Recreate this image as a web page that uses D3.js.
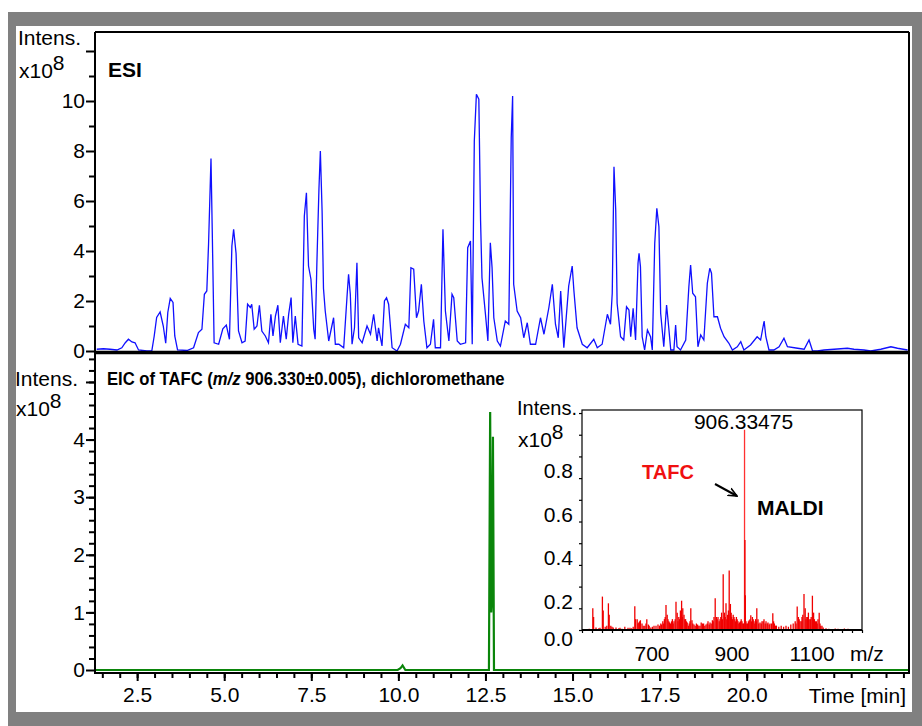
<!DOCTYPE html>
<html>
<head>
<meta charset="utf-8">
<script src="https://cdn.jsdelivr.net/npm/d3@7"></script>
<style>
  body { margin: 0; background: #fff; }
  text { font-family: "Liberation Sans", Arial, sans-serif; fill: #000; }
</style>
</head>
<body>
<div id="chart"></div>
<script>
// ESI total ion chromatogram (time in min, intensity x10^8)
const esiTime = [1.34, 1.53, 1.72, 1.92, 2.06, 2.16, 2.25, 2.35, 2.44, 2.54, 2.78, 2.92, 2.99, 3.06, 3.16, 3.25, 3.32, 3.38, 3.45, 3.53, 3.58, 3.66, 3.93, 4.12, 4.26, 4.36, 4.43, 4.5, 4.55, 4.62, 4.66, 4.71, 4.84, 4.96, 5.06, 5.15, 5.22, 5.27, 5.34, 5.41, 5.51, 5.6, 5.67, 5.75, 5.79, 5.86, 5.94, 6.01, 6.08, 6.18, 6.27, 6.34, 6.4, 6.47, 6.54, 6.61, 6.7, 6.78, 6.85, 6.92, 6.97, 7.04, 7.12, 7.23, 7.3, 7.36, 7.42, 7.49, 7.57, 7.61, 7.66, 7.72, 7.76, 7.81, 7.85, 7.9, 8.0, 8.14, 8.19, 8.29, 8.43, 8.53, 8.57, 8.62, 8.67, 8.74, 8.81, 8.86, 8.96, 9.1, 9.2, 9.29, 9.39, 9.43, 9.53, 9.6, 9.66, 9.72, 9.82, 9.96, 10.06, 10.2, 10.3, 10.36, 10.44, 10.52, 10.58, 10.66, 10.73, 10.82, 10.92, 11.01, 11.06, 11.21, 11.28, 11.35, 11.45, 11.54, 11.59, 11.69, 11.78, 11.93, 11.99, 12.07, 12.12, 12.18, 12.24, 12.31, 12.36, 12.4, 12.5, 12.57, 12.64, 12.69, 12.74, 12.84, 12.93, 13.07, 13.17, 13.24, 13.28, 13.31, 13.41, 13.51, 13.6, 13.7, 13.79, 13.94, 14.08, 14.18, 14.32, 14.42, 14.51, 14.59, 14.66, 14.75, 14.89, 14.99, 15.04, 15.13, 15.28, 15.42, 15.61, 15.71, 15.85, 16.0, 16.09, 16.14, 16.19, 16.24, 16.28, 16.38, 16.47, 16.55, 16.62, 16.67, 16.74, 16.81, 16.88, 16.91, 16.95, 17.0, 17.07, 17.15, 17.24, 17.29, 17.36, 17.42, 17.48, 17.53, 17.62, 17.7, 17.76, 17.82, 17.91, 17.96, 18.0, 18.1, 18.25, 18.34, 18.39, 18.45, 18.53, 18.6, 18.68, 18.77, 18.87, 18.94, 18.99, 19.06, 19.16, 19.25, 19.35, 19.49, 19.59, 19.73, 19.83, 19.92, 20.11, 20.3, 20.4, 20.5, 20.55, 20.64, 20.78, 20.93, 21.07, 21.17, 21.46, 21.65, 21.79, 21.89, 22.03, 22.22, 22.51, 22.89, 23.08, 23.37, 23.56, 23.85, 24.14, 24.33, 24.62];
const esiIntens = [0.07, 0.09, 0.07, 0.04, 0.13, 0.33, 0.47, 0.36, 0.33, 0.04, 0.0, 0.0, 0.6, 1.34, 1.56, 1.0, 0.31, 1.54, 2.1, 1.94, 0.6, 0.04, 0.02, 0.13, 0.74, 0.87, 2.27, 2.4, 4.27, 7.7, 4.5, 0.33, 0.27, 0.89, 1.04, 0.47, 4.2, 4.87, 3.9, 0.8, 0.33, 0.4, 1.87, 1.74, 1.87, 0.87, 1.0, 1.83, 0.8, 0.6, 0.33, 1.47, 0.6, 1.4, 1.83, 0.33, 1.4, 0.47, 1.47, 2.14, 0.33, 1.4, 0.27, 0.2, 5.4, 6.33, 3.4, 2.87, 0.87, 0.47, 3.5, 6.5, 8.0, 5.6, 2.5, 1.6, 0.4, 1.33, 0.27, 0.27, 0.13, 2.27, 3.07, 2.27, 0.27, 0.93, 3.53, 0.53, 0.33, 1.0, 0.67, 1.47, 0.4, 0.93, 0.2, 2.0, 2.13, 1.87, 0.13, 0.0, 0.27, 1.07, 0.93, 3.33, 3.27, 1.33, 1.6, 2.67, 1.2, 0.13, 0.27, 1.27, 0.13, 0.13, 4.87, 1.6, 0.4, 2.27, 2.13, 0.4, 0.27, 0.33, 4.13, 4.4, 0.27, 8.4, 10.27, 10.07, 5.2, 2.93, 1.47, 0.4, 4.33, 3.33, 1.33, 0.4, 0.2, 1.2, 1.07, 8.53, 10.2, 2.67, 1.6, 1.33, 0.53, 1.13, 0.27, 0.27, 1.33, 0.67, 1.73, 2.67, 1.07, 0.53, 2.4, 0.13, 2.6, 3.4, 2.4, 0.93, 0.27, 0.13, 0.47, 0.13, 0.27, 1.47, 1.07, 2.31, 7.37, 5.64, 1.91, 0.57, 0.44, 1.77, 1.64, 0.57, 1.71, 0.44, 3.51, 3.91, 3.37, 0.57, 0.04, 0.84, 0.57, 0.04, 4.31, 5.71, 4.97, 1.51, 0.17, 1.84, 0.97, 0.04, 0.04, 1.04, 0.17, 0.04, 0.44, 2.57, 3.44, 2.31, 2.17, 0.17, 0.64, 0.44, 2.71, 3.31, 3.11, 1.37, 1.37, 0.91, 0.57, 0.31, 0.04, 0.17, 0.37, 0.04, 0.24, 0.57, 0.44, 1.2, 0.57, 0.04, 0.04, 0.17, 0.51, 0.17, 0.11, 0.07, 0.44, 0.01, 0.0, 0.04, 0.07, 0.11, 0.07, 0.04, 0.0, 0.07, 0.17, 0.11, 0.04];

// extracted ion chromatogram of TAFC
const eicTime = [1.29, 9.98, 10.06, 10.12, 10.2, 12.6, 12.635, 12.665, 12.685, 12.715, 12.745, 24.66];
const eicIntens = [0, 0, 0.03, 0.08, 0, 0, 4.48, 1.0, 1.22, 4.05, 0, 0];

// MALDI spectrum (m/z, intensity x10^8)
const maldiMz = [510, 518, 527, 529, 535, 542, 551, 553, 558, 566, 568, 572, 578, 585, 592, 600, 607, 615, 624, 632, 634, 638, 642, 646, 650, 657, 662, 666, 672, 680, 690, 697, 702, 706, 710, 713, 717, 721, 726, 730, 735, 738, 742, 746, 749, 752, 755, 759, 763, 768, 772, 775, 780, 786, 792, 798, 804, 810, 815, 820, 826, 830, 833, 836, 840, 845, 849, 853, 856, 860, 864, 868, 871, 874, 878, 882, 886, 890, 894, 898, 902, 906.33, 907.3, 908.3, 910, 914, 918, 922, 926, 930, 934, 937, 940, 945, 950, 955, 960, 965, 970, 977, 981, 986, 992, 998, 1004, 1010, 1016, 1022, 1028, 1033, 1038, 1041, 1045, 1050, 1055, 1058, 1062, 1066, 1071, 1076, 1079, 1084, 1088, 1093, 1097, 1103, 1110, 1117, 1125, 1133, 1140, 1148, 1156, 1165, 1172, 1180,
  545, 562, 575, 595, 620, 628, 640, 644, 653, 660, 668, 676, 685, 694, 699, 704, 708, 715, 719, 724, 728, 733, 740, 744, 751, 757, 761, 766, 770, 777, 783, 789, 795, 801, 807, 813, 818, 823, 828, 838, 843, 847, 851, 858, 862, 866, 870, 873, 876, 880, 884, 888, 892, 896, 900, 904, 912, 916, 920, 924, 928, 932, 936, 942, 948, 953, 958, 963, 968, 974, 979, 984, 1035, 1043, 1048, 1052, 1060, 1064, 1068, 1073, 1081, 1086, 1090, 1095, 1100];
const maldiIntens = [0.004, 0.006, 0.10, 0.06, 0.012, 0.008, 0.154, 0.09, 0.015, 0.123, 0.07, 0.02, 0.012, 0.012, 0.008, 0.006, 0.015, 0.01, 0.008, 0.11, 0.05, 0.05, 0.035, 0.045, 0.03, 0.02, 0.05, 0.025, 0.012, 0.02, 0.025, 0.03, 0.04, 0.05, 0.115, 0.07, 0.04, 0.03, 0.05, 0.04, 0.13, 0.08, 0.06, 0.09, 0.135, 0.1, 0.07, 0.05, 0.035, 0.03, 0.1, 0.045, 0.025, 0.03, 0.02, 0.035, 0.03, 0.025, 0.04, 0.035, 0.045, 0.06, 0.146, 0.06, 0.06, 0.05, 0.08, 0.257, 0.08, 0.123, 0.07, 0.274, 0.12, 0.06, 0.07, 0.05, 0.06, 0.04, 0.035, 0.05, 0.03, 0.923, 0.415, 0.16, 0.04, 0.03, 0.045, 0.068, 0.06, 0.04, 0.05, 0.1, 0.05, 0.035, 0.04, 0.05, 0.04, 0.035, 0.03, 0.077, 0.03, 0.02, 0.015, 0.02, 0.015, 0.02, 0.015, 0.025, 0.03, 0.04, 0.108, 0.06, 0.04, 0.06, 0.166, 0.1, 0.06, 0.08, 0.05, 0.158, 0.08, 0.04, 0.03, 0.08, 0.02, 0.012, 0.008, 0.006, 0.005, 0.007, 0.006, 0.005, 0.007, 0.006, 0.005, 0.004,
  0.01, 0.02, 0.015, 0.01, 0.01, 0.015, 0.03, 0.04, 0.02, 0.03, 0.02, 0.015, 0.02, 0.02, 0.025, 0.03, 0.06, 0.05, 0.035, 0.04, 0.03, 0.05, 0.04, 0.05, 0.06, 0.05, 0.04, 0.02, 0.04, 0.03, 0.02, 0.025, 0.02, 0.03, 0.02, 0.03, 0.025, 0.03, 0.04, 0.05, 0.04, 0.06, 0.05, 0.06, 0.05, 0.09, 0.07, 0.08, 0.05, 0.06, 0.04, 0.05, 0.03, 0.04, 0.04, 0.03, 0.03, 0.04, 0.05, 0.04, 0.05, 0.03, 0.04, 0.03, 0.03, 0.04, 0.03, 0.03, 0.025, 0.03, 0.04, 0.02, 0.03, 0.05, 0.04, 0.07, 0.05, 0.06, 0.05, 0.06, 0.05, 0.04, 0.05, 0.03, 0.02];

// tick values / labels
const timeTicks = [2.5, 5, 7.5, 10, 12.5, 15, 17.5, 20];
const esiTicks = [0, 2, 4, 6, 8, 10, 12];
const eicTicks = [0, 1, 2, 3, 4, 5];
const mzTicks = [700, 900, 1100];
const maldiTicks = [0, 0.2, 0.4, 0.6, 0.8];

let width = 922, height = 726;
let plot = {left: 95, right: 909, top: 32, mid: 352, bottom: 670};
let inset = {left: 582, right: 862, top: 410, bottom: 630};

let svg = d3.select("#chart").append("svg")
  .attr("width", width)
  .attr("height", height)
  .style("display", "block");

// gray frame
svg.append("rect").attr("x", 8).attr("y", 12).attr("width", width - 8).attr("height", height - 12).attr("fill", "#808080");
svg.append("rect").attr("x", 16).attr("y", 26).attr("width", 896).attr("height", 686).attr("fill", "#fff");

let x = d3.scaleLinear().domain([1.29, 24.66]).range([plot.left, plot.right]);
let yEsi = d3.scaleLinear().domain([0, 12.76]).range([351, plot.top]);
let yEic = d3.scaleLinear().domain([0, 5.52]).range([plot.bottom, plot.mid]);

function styleAxis(g, size) {
  g.select(".domain").remove();
  g.selectAll(".tick line").attr("stroke", "#000").attr("stroke-width", 2);
  g.selectAll(".tick text").attr("font-size", size).attr("fill", "#000")
    .attr("font-family", "'Liberation Sans', Arial, sans-serif");
}

// ---- top panel: ESI ----
svg.append("g").attr("transform", `translate(${plot.left},0)`)
  .call(d3.axisLeft(yEsi).tickValues([1, 3, 5, 7, 9, 11]).tickSize(6).tickFormat(""))
  .call(g => styleAxis(g, 21));
svg.append("g").attr("transform", `translate(${plot.left},0)`)
  .call(d3.axisLeft(yEsi).tickValues(esiTicks).tickSize(9).tickPadding(1)
    .tickFormat(d => d <= 10 ? d : ""))
  .call(g => styleAxis(g, 21));

let esiLine = d3.line()
  .x((d, i) => x(esiTime[i]))
  .y(d => yEsi(d));
svg.append("path")
  .datum(esiIntens)
  .attr("d", esiLine)
  .attr("fill", "none")
  .attr("stroke", "#1010ff")
  .attr("stroke-width", 1.3);

// ---- bottom panel: EIC ----
svg.append("g").attr("transform", `translate(${plot.left},0)`)
  .call(d3.axisLeft(yEic).tickValues(d3.range(0.2, 5.5, 0.2)).tickSize(6).tickFormat(""))
  .call(g => styleAxis(g, 21));
svg.append("g").attr("transform", `translate(${plot.left},0)`)
  .call(d3.axisLeft(yEic).tickValues(eicTicks).tickSize(9).tickPadding(1)
    .tickFormat(d => d <= 4 ? d : ""))
  .call(g => styleAxis(g, 21));

svg.append("g").attr("transform", `translate(0,673)`)
  .call(d3.axisBottom(x).tickValues(d3.range(1.5, 24.6, 0.5)).tickSize(5).tickFormat(""))
  .call(g => styleAxis(g, 21));
svg.append("g").attr("transform", `translate(0,673)`)
  .call(d3.axisBottom(x).tickValues(timeTicks).tickSize(8).tickPadding(6).tickFormat(d3.format(".1f")))
  .call(g => styleAxis(g, 21));

let eicLine = d3.line()
  .x((d, i) => x(eicTime[i]))
  .y(d => yEic(d));
svg.append("path")
  .datum(eicIntens)
  .attr("d", eicLine)
  .attr("fill", "none")
  .attr("stroke", "#0a850a")
  .attr("stroke-width", 2.2);

// frame lines
let frame = svg.append("g").attr("stroke", "#000").attr("fill", "none");
frame.append("line").attr("x1", plot.left).attr("x2", plot.left).attr("y1", plot.top).attr("y2", 674).attr("stroke-width", 2);
frame.append("line").attr("x1", plot.left).attr("x2", plot.right).attr("y1", plot.top).attr("y2", plot.top).attr("stroke-width", 2);
frame.append("line").attr("x1", plot.right).attr("x2", plot.right).attr("y1", plot.top).attr("y2", 674).attr("stroke-width", 2);
frame.append("line").attr("x1", plot.left).attr("x2", plot.right).attr("y1", 352.5).attr("y2", 352.5).attr("stroke-width", 3.5);
frame.append("line").attr("x1", plot.left).attr("x2", plot.right).attr("y1", 673).attr("y2", 673).attr("stroke-width", 2);

// ---- texts ----
function unitLabel(xPos, yPos, size) {
  let t = svg.append("text").attr("x", xPos).attr("y", yPos).attr("font-size", size);
  t.append("tspan").text("x10");
  t.append("tspan").attr("dy", -8).text("8");
}
svg.append("text").attr("x", 18).attr("y", 45).attr("font-size", 21).text("Intens.");
unitLabel(19, 78, 21);
svg.append("text").attr("x", 108).attr("y", 77).attr("font-size", 21).attr("font-weight", "bold").text("ESI");

svg.append("text").attr("x", 15).attr("y", 386).attr("font-size", 21).text("Intens.");
unitLabel(16, 416, 21);
// the original heading is a narrow bold face: squeeze it horizontally
let title = svg.append("text")
  .attr("transform", "translate(107,385) scale(0.875,1)")
  .attr("font-size", 19).attr("font-weight", "bold");
title.append("tspan").text("EIC of TAFC (");
title.append("tspan").attr("font-style", "italic").text("m/z");
title.append("tspan").text(" 906.330\u00b10.005), dichloromethane");

svg.append("text").attr("x", 906).attr("y", 703).attr("font-size", 21).attr("text-anchor", "end").text("Time [min]");

// ---- inset: MALDI spectrum ----
let xIn = d3.scaleLinear().domain([500, 1200]).range([inset.left, inset.right]);
let yIn = d3.scaleLinear().domain([0, 1.014]).range([inset.bottom, inset.top]);

svg.append("rect")
  .attr("x", inset.left).attr("y", inset.top)
  .attr("width", inset.right - inset.left).attr("height", inset.bottom - inset.top)
  .attr("fill", "#fff").attr("stroke", "#000").attr("stroke-width", 1.2);

svg.append("g").selectAll("line")
  .data(maldiIntens)
  .join("line")
  .attr("x1", (d, i) => xIn(maldiMz[i]))
  .attr("x2", (d, i) => xIn(maldiMz[i]))
  .attr("y1", yIn(0))
  .attr("y2", d => yIn(d))
  .attr("stroke", d => d > 0.5 ? "#ff3030" : "#f00000")
  .attr("stroke-width", 1.3);

svg.append("g").attr("transform", `translate(${inset.left},0)`)
  .call(d3.axisLeft(yIn).tickValues(d3.range(0, 1.01, 0.1)).tickSize(3).tickFormat(""))
  .call(g => styleAxis(g, 21))
  .call(g => g.selectAll(".tick line").attr("stroke-width", 1.2));
svg.append("g").attr("transform", `translate(0,${inset.bottom})`)
  .call(d3.axisBottom(xIn).tickValues(d3.range(500, 1201, 25)).tickSize(3).tickFormat(""))
  .call(g => styleAxis(g, 21))
  .call(g => g.selectAll(".tick line").attr("stroke-width", 1.2));
svg.append("line").attr("x1", inset.left).attr("x2", inset.right)
  .attr("y1", inset.bottom).attr("y2", inset.bottom).attr("stroke", "#000").attr("stroke-width", 2);

svg.append("g").selectAll("text")
  .data(maldiTicks)
  .join("text")
  .attr("x", 573)
  .attr("y", d => yIn(d) + (d === 0 ? 9 : 15) + 7)
  .attr("text-anchor", "end")
  .attr("font-size", 21)
  .text(d => d3.format(".1f")(d));
svg.append("g").selectAll("text")
  .data(mzTicks)
  .join("text")
  .attr("x", d => xIn(d) - 10)
  .attr("y", 661)
  .attr("text-anchor", "middle")
  .attr("font-size", 21)
  .text(d => d);
svg.append("text").attr("x", 850).attr("y", 661).attr("font-size", 21).text("m/z");

svg.append("text").attr("x", 517).attr("y", 415).attr("font-size", 20).text("Intens.");
unitLabel(518, 447, 21);
svg.append("text").attr("x", xIn(906.33) - 1).attr("y", 429).attr("font-size", 21)
  .attr("text-anchor", "middle").text("906.33475");
svg.append("text").attr("x", 642).attr("y", 479).attr("font-size", 20)
  .attr("font-weight", "bold").style("fill", "#f01010").text("TAFC");
svg.append("text").attr("x", 757).attr("y", 515).attr("font-size", 21)
  .attr("font-weight", "bold").text("MALDI");

// arrow
svg.append("defs").append("marker")
  .attr("id", "arrow").attr("viewBox", "0 0 10 10")
  .attr("refX", 9).attr("refY", 5)
  .attr("markerWidth", 5).attr("markerHeight", 5)
  .attr("orient", "auto")
  .append("path").attr("d", "M0,1 L9,5 L0,9").attr("fill", "none").attr("stroke", "#000").attr("stroke-width", 1.6);
svg.append("line")
  .attr("x1", 715).attr("y1", 484).attr("x2", 737).attr("y2", 496)
  .attr("stroke", "#000").attr("stroke-width", 2)
  .attr("marker-end", "url(#arrow)");
</script>
</body>
</html>
